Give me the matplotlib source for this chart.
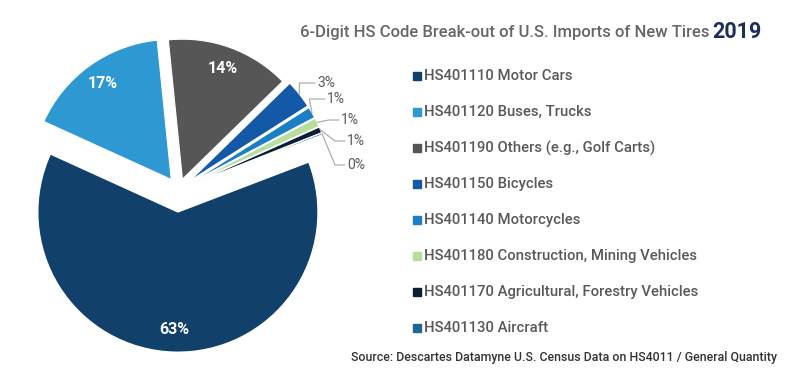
import numpy as np
import matplotlib
matplotlib.use("Agg")
import matplotlib.pyplot as plt

plt.rcParams["font.family"] = ["Roboto", "DejaVu Sans"]

labels = ["HS401110 Motor Cars", "HS401120 Buses, Trucks",
          "HS401190 Others (e.g., Golf Carts)", "HS401150 Bicycles",
          "HS401140 Motorcycles", "HS401180 Construction, Mining Vehicles",
          "HS401170 Agricultural, Forestry Vehicles", "HS401130 Aircraft"]
shares = [62.6, 16.6, 14.3, 3.3, 1.3, 1.0, 0.7, 0.2]
colors = ["#11406A", "#2E98D3", "#565656", "#1459A8",
          "#1B7FC4", "#B5DD9C", "#0B1F33", "#1F6896"]
explode = [0.16, 0.09, 0.08, 0.1, 0.1, 0.1, 0.1, 0.1]

W, H = 800, 379
fig = plt.figure(figsize=(W / 100, H / 100), dpi=100)

# pie axes: centre (178.6, 189.7) px, radius 140 px
cx, cy, R, half = 178.6, 189.7, 140, 170
ax = fig.add_axes([(cx - half) / W, (H - cy - half) / H, 2 * half / W, 2 * half / H])

wedges, _ = ax.pie(shares, colors=colors, explode=explode, startangle=20.9,
                   counterclock=False, radius=1,
                   wedgeprops=dict(edgecolor="white", linewidth=0.8))
# pie() resets the limits, so set them afterwards
ax.set_xlim(-half / R, half / R); ax.set_ylim(-half / R, half / R)
ax.set_aspect("equal"); ax.axis("off")
tot = sum(shares)
pct = [f"{round(s / tot * 100):.0f}%" for s in shares]

for i, w in enumerate(wedges):
    w.set_clip_on(False)
    mid = np.deg2rad((w.theta1 + w.theta2) / 2)
    ox, oy = w.center
    if i < 3:
        ax.text(ox + 0.84 * np.cos(mid), oy + 0.84 * np.sin(mid), pct[i],
                color="white", fontsize=11.5, fontweight="bold",
                ha="center", va="center")

# outside labels for the small slices (text pos in px)
txt_px = [(326, 83), (336, 99), (350, 120), (356, 141), (356, 165)]
for k, (tx, ty) in zip(range(3, 8), txt_px):
    w = wedges[k]
    mid = np.deg2rad((w.theta1 + w.theta2) / 2)
    ox, oy = w.center
    px, py = ox + np.cos(mid), oy + np.sin(mid)
    lx, ly = (tx - cx) / R, (cy - ty) / R
    ex = lx - 0.15
    ax.plot([px, ex - 0.04 if k < 5 else ex, ex, lx - 0.08], [py, ly, ly, ly],
            color="#A6A6A6", lw=0.8, clip_on=False)
    ax.text(lx, ly, pct[k], color="#595959", fontsize=10,
            ha="center", va="center")

# legend
for j, (lab, c) in enumerate(zip(labels, colors)):
    y = 1 - (76 + 36 * j) / H
    fig.patches.append(plt.Rectangle((413 / W, y - 4 / H), 8 / W, 8 / H,
                                     transform=fig.transFigure, color=c))
    fig.text(424 / W, y, lab, color="#595959", fontsize=10.7,
             fontweight="medium", va="center")

# title
fig.text(300 / W, 1 - 33 / H, "6-Digit HS Code Break-out of U.S. Imports of New Tires",
         color="#666666", fontsize=12, fontweight="medium", va="center")
fig.text(712 / W, 1 - 32 / H, "2019", color="#1F2D5C", fontsize=15.5,
         fontweight="bold", va="center")

fig.text(777 / W, 1 - 357 / H,
         "Source: Descartes Datamyne U.S. Census Data on HS4011 / General Quantity",
         color="#333333", fontsize=8.9, fontweight="medium", ha="right", va="center")

fig.savefig("out.png", dpi=100)
